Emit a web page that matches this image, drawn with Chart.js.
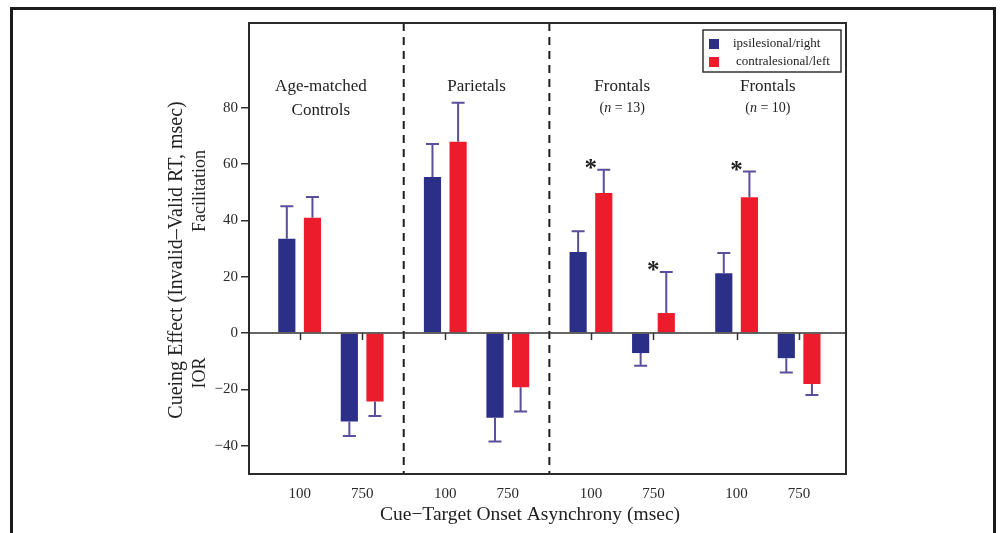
<!DOCTYPE html>
<html>
<head>
<meta charset="utf-8">
<script src="https://cdn.jsdelivr.net/npm/chart.js@4"></script>
<style>
  html, body { margin: 0; padding: 0; background: #fff; }
  #wrap { position: relative; width: 1003px; height: 533px; overflow: hidden; }
</style>
</head>
<body>
<div id="wrap"><canvas id="chart-canvas" width="1003" height="533"></canvas></div>
<script>
//------------------------ DATA ----------------------------

const groups = [["Age-matched", "Controls"], ["Parietals"], ["Frontals", "(n = 13)"], ["Frontals", "(n = 10)"]];
const soaLabels = ["100", "750", "100", "750", "100", "750", "100", "750"];

const ipsiValues = [33.5, -31.4, 55.4, -30.0, 28.8, -7.1, 21.2, -8.9];
const ipsiErrors = [11.5, 5.1, 11.7, 8.5, 7.3, 4.5, 7.2, 5.1];
const contraValues = [40.9, -24.3, 67.9, -19.2, 49.7, 7.1, 48.2, -18.1];
const contraErrors = [7.4, 5.1, 13.8, 8.6, 8.2, 14.6, 9.1, 3.9];
const contraStars = [false, false, false, false, true, true, true, false];

const yTicks = [-40, -20, 0, 20, 40, 60, 80];

//------------------------ LAYOUT HELPERS ----------------------------

const SERIF = '"Liberation Serif", "DejaVu Serif", serif';
const BLUE = "#2b2f87";
const RED = "#ed1c2c";
const ERR = "#5a4f9c";
const groupStep = 2.33;

// x position of each category on the linear axis (two SOAs per group)
const xPos = soaLabels.map((_, i) => Math.floor(i / 2) * groupStep + (i % 2));

function toPoints(values) {
  return values.map((v, i) => ({ x: xPos[i], y: v }));
}

// error bars, stars, zero line, dividers, legend, titles
const decorations = {
  id: "decorations",
  beforeDraw(chart) {
    const ctx = chart.ctx;
    ctx.save();
    ctx.fillStyle = "#fff";
    ctx.fillRect(0, 0, chart.width, chart.height);
    // outer frame
    ctx.strokeStyle = "#1b1b1b";
    ctx.lineWidth = 3;
    ctx.strokeRect(11.5, 8.5, 983, 600);
    ctx.restore();
  },
  afterDatasetsDraw(chart) {
    const ctx = chart.ctx;
    const area = chart.chartArea;
    const x = chart.scales.x;
    const y = chart.scales.y;
    const zero = y.getPixelForValue(0);
    ctx.save();

    // dashed group dividers
    ctx.strokeStyle = "#1e1e1e";
    ctx.lineWidth = 2;
    ctx.setLineDash([8, 6]);
    for (let g = 0; g < 2; g++) {
      const px = x.getPixelForValue((xPos[g * 2 + 1] + xPos[g * 2 + 2]) / 2);
      ctx.beginPath();
      ctx.moveTo(px, area.top);
      ctx.lineTo(px, area.bottom);
      ctx.stroke();
    }
    ctx.setLineDash([]);

    // zero line + small ticks
    ctx.strokeStyle = "#333";
    ctx.lineWidth = 1.5;
    ctx.beginPath();
    ctx.moveTo(area.left, zero);
    ctx.lineTo(area.right, zero);
    ctx.stroke();
    xPos.forEach((v) => {
      const px = Math.round(x.getPixelForValue(v)) + 0.5;
      ctx.beginPath();
      ctx.moveTo(px, zero);
      ctx.lineTo(px, zero + 7);
      ctx.stroke();
    });

    // error bars
    const errs = [ipsiErrors, contraErrors];
    ctx.strokeStyle = ERR;
    ctx.lineWidth = 2;
    chart.data.datasets.forEach((ds, d) => {
      chart.getDatasetMeta(d).data.forEach((bar, i) => {
        const v = ds.data[i].y;
        const end = v + Math.sign(v) * errs[d][i];
        const ys = y.getPixelForValue(v);
        const ye = y.getPixelForValue(end);
        ctx.beginPath();
        ctx.moveTo(bar.x, ys);
        ctx.lineTo(bar.x, ye);
        ctx.moveTo(bar.x - 6.5, ye);
        ctx.lineTo(bar.x + 6.5, ye);
        ctx.stroke();
        if (d === 1 && contraStars[i]) {
          ctx.fillStyle = "#222";
          ctx.font = "bold 25px " + SERIF;
          ctx.textAlign = "center";
          ctx.textBaseline = "alphabetic";
          ctx.fillText("*", bar.x - 13, ye + 6);
        }
      });
    });

    // plot box
    ctx.strokeStyle = "#2a2a2a";
    ctx.lineWidth = 2;
    ctx.strokeRect(area.left, area.top, area.right - area.left, area.bottom - area.top);

    // legend
    ctx.strokeStyle = "#333";
    ctx.lineWidth = 1.5;
    ctx.strokeRect(703, 30, 138, 42);
    ctx.font = "13px " + SERIF;
    ctx.textAlign = "left";
    ctx.textBaseline = "middle";
    chart.data.datasets.forEach((ds, d) => {
      const ly = 44 + d * 18;
      ctx.fillStyle = ds.backgroundColor;
      ctx.fillRect(709, ly - 5, 10, 10);
      ctx.fillStyle = "#222";
      ctx.fillText(ds.label, d === 0 ? 733 : 736, ly);
    });

    // group titles
    ctx.fillStyle = "#222";
    ctx.textAlign = "center";
    ctx.textBaseline = "middle";
    groups.forEach((lines, g) => {
      const cx = x.getPixelForValue((xPos[g * 2] + xPos[g * 2 + 1]) / 2) - (g === 0 ? 10 : 0);
      ctx.font = "17px " + SERIF;
      ctx.fillText(lines[0], cx, 87);
      if (lines[1] && lines[1].startsWith("(n")) {
        // "(n = 13)" with italic n
        const parts = [["(", "14px "], ["n", "italic 14px "], [lines[1].slice(2), "14px "]];
        let total = 0;
        parts.forEach((p) => { ctx.font = p[1] + SERIF; total += ctx.measureText(p[0]).width; });
        let px = cx - total / 2;
        ctx.textAlign = "left";
        parts.forEach((p) => {
          ctx.font = p[1] + SERIF;
          ctx.fillText(p[0], px, 108);
          px += ctx.measureText(p[0]).width;
        });
        ctx.textAlign = "center";
      } else if (lines[1]) {
        ctx.fillText(lines[1], cx, 111);
      }
    });

    // axis titles
    ctx.font = "19.5px " + SERIF;
    ctx.fillText("Cue\u2212Target Onset Asynchrony (msec)", 530, 515);
    ctx.translate(177, 260);
    ctx.rotate(-Math.PI / 2);
    ctx.font = "20px " + SERIF;
    ctx.fillText("Cueing Effect (Invalid\u2013Valid RT, msec)", 0, 0);
    ctx.font = "18px " + SERIF;
    ctx.fillText("Facilitation", 69, 23);
    ctx.fillText("IOR", -113, 23);
    ctx.restore();
  },
};

//------------------------ CHART ----------------------------

const ctx = document.getElementById("chart-canvas").getContext("2d");
const myChart = new Chart(ctx, {
  type: "bar",
  data: {
    datasets: [
      {
        label: "ipsilesional/right",
        data: toPoints(ipsiValues),
        backgroundColor: BLUE,
        categoryPercentage: 0.82,
        barPercentage: 0.67,
      },
      {
        label: "contralesional/left",
        data: toPoints(contraValues),
        backgroundColor: RED,
        categoryPercentage: 0.82,
        barPercentage: 0.67,
      },
    ],
  },
  options: {
    responsive: false,
    animation: false,
    layout: { padding: { left: 0, top: 23, right: 157, bottom: 0 } },
    plugins: {
      legend: { display: false },
      tooltip: { enabled: false },
    },
    scales: {
      x: {
        type: "linear",
        offset: false,
        min: -0.81,
        max: 8.74,
        grid: { display: false },
        border: { display: false },
        afterBuildTicks: (scale) => {
          scale.ticks = xPos.map((v) => ({ value: v }));
        },
        afterFit: (scale) => {
          scale.height = 59;
        },
        ticks: {
          autoSkip: false,
          maxRotation: 0,
          padding: 3,
          color: "#2a2a2a",
          font: { family: SERIF, size: 15 },
          callback: (value, index) => soaLabels[index],
        },
      },
      y: {
        min: -50,
        max: 110,
        grid: {
          drawOnChartArea: false,
          drawTicks: true,
          tickLength: 8,
          color: "#333",
          lineWidth: 1.5,
        },
        border: { display: false },
        afterBuildTicks: (scale) => {
          scale.ticks = yTicks.map((v) => ({ value: v }));
        },
        afterFit: (scale) => {
          scale.width = 249;
        },
        ticks: {
          padding: 3,
          color: "#2a2a2a",
          font: { family: SERIF, size: 15 },
          callback: (value) => String(value).replace("-", "\u2212"),
        },
      },
    },
  },
  plugins: [decorations],
});
</script>
</body>
</html>
